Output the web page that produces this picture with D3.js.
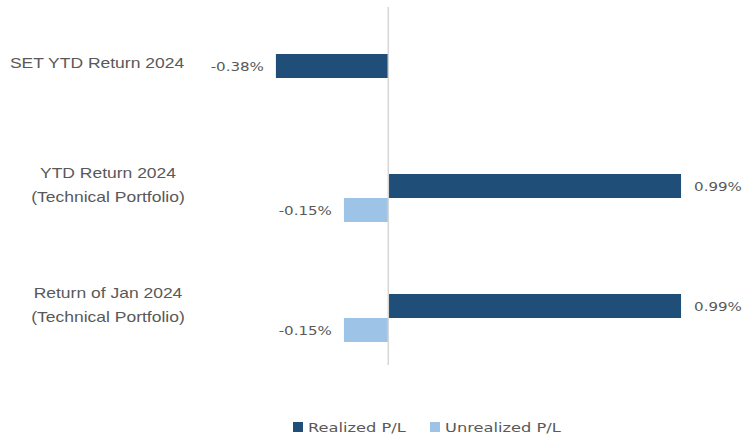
<html>
<head>
    <meta charset="utf-8">
    <title>returns chart</title>
    <script src="https://d3js.org/d3.v7.min.js"></script>
    <style type="text/css">
        body { margin: 0; background: #fff; }
        .cat { font-family: "Liberation Sans", Arial, sans-serif; font-size: 14px; fill: #595959; }
        .val { font-family: "DejaVu Sans", Verdana, sans-serif; font-size: 13px; fill: #595959; }
        .leg { font-family: "DejaVu Sans", Verdana, sans-serif; font-size: 12.5px; fill: #595959; }
    </style>
</head>
<body>
<script>
    // data
    const categories = ["SET YTD Return 2024", "YTD Return 2024|(Technical Portfolio)", "Return of Jan 2024|(Technical Portfolio)"]
    const series = ["Realized P/L", "Unrealized P/L"]
    const realized = [-0.38, 0.99, 0.99]
    const unrealized = [null, -0.15, -0.15]
    const colors = ["#1F4E79", "#9DC3E6"]

    const W = 745, H = 437

    let svg = d3.select("body").append("svg").attr("width", W).attr("height", H)

    let x = d3.scaleLinear().domain([-0.4, 1.0]).range([270, 684])
    let y = d3.scaleBand().domain(categories).range([18, 378]).paddingInner(0.6).paddingOuter(0.3)
    let ySub = d3.scaleBand().domain(series).range([0, y.bandwidth()])

    let rows = []
    categories.forEach((c, i) => {
        rows.push({ cat: c, s: series[0], v: realized[i] })
        if (unrealized[i] != null) rows.push({ cat: c, s: series[1], v: unrealized[i] })
    })

    // bars
    svg.append("g").selectAll("rect").data(rows).join("rect")
        .attr("x", d => x(Math.min(0, d.v)))
        .attr("width", d => Math.abs(x(d.v) - x(0)))
        .attr("y", d => y(d.cat) + ySub(d.s))
        .attr("height", ySub.bandwidth())
        .attr("fill", d => colors[series.indexOf(d.s)])

    // zero line
    svg.append("line")
        .attr("x1", x(0)).attr("x2", x(0))
        .attr("y1", 7).attr("y2", 365)
        .attr("stroke", "#d6d6d6").attr("stroke-width", 1.5)

    // value labels (glyphs in the original are stretched wide)
    let fmt = v => (v < 0 ? "-" : "") + Math.abs(v).toFixed(2) + "%"
    svg.append("g").selectAll("text").data(rows).join("text")
        .attr("class", "val")
        .attr("transform", d => {
            let tx = d.v < 0 ? x(d.v) - 12 : x(d.v) + 13
            let ty = y(d.cat) + ySub(d.s) + ySub.bandwidth() / 2 + 5
            return `translate(${tx},${ty}) scale(1.16,1)`
        })
        .attr("text-anchor", d => d.v < 0 ? "end" : "start")
        .text(d => fmt(d.v))

    // category labels
    let cats = svg.append("g").selectAll("text").data(categories).join("text")
        .attr("class", "cat")
        .attr("text-anchor", "middle")
        .attr("transform", c => `translate(${c.includes("|") ? 108 : 97},${y(c)}) scale(1.25,1)`)
    cats.each(function (c) {
        let lines = c.split("|")
        let t = d3.select(this)
        lines.forEach((ln, k) => {
            t.append("tspan")
                .attr("x", 0)
                .attr("y", lines.length == 1 ? 14 : 4 + k * 24)
                .text(ln)
        })
    })

    // legend
    let legX = [293, 430]
    let leg = svg.append("g").selectAll("g").data(series).join("g")
        .attr("transform", (d, i) => `translate(${legX[i]}, 422)`)
    leg.append("rect").attr("width", 10).attr("height", 10).attr("fill", (d, i) => colors[i])
    leg.append("text").attr("class", "leg")
        .attr("transform", "translate(15,10) scale(1.3,1)")
        .text(d => d)
</script>
</body>
</html>
